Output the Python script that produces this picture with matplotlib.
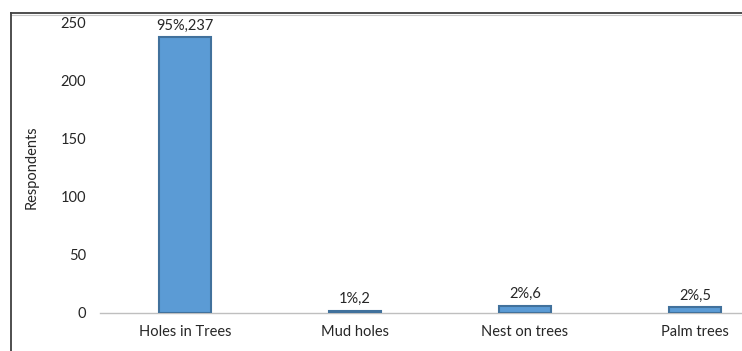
import matplotlib
matplotlib.use("Agg")
import matplotlib.pyplot as plt
from matplotlib.lines import Line2D

categories = ["Holes in Trees", "Mud holes", "Nest on trees", "Palm trees"]
values = [237, 2, 6, 5]
percents = ["95%", "1%", "2%", "2%"]
yticks = [0, 50, 100, 150, 200, 250]

plt.rcParams['font.family'] = ['Lato', 'DejaVu Sans']

W, H = 742, 351
fig = plt.figure(figsize=(W / 100, H / 100), dpi=100)
fig.patch.set_facecolor("white")

left = 100 / W
right = 780 / W
bottom = 1 - 313 / H
top = 1 - 22 / H
ax = fig.add_axes([left, bottom, right - left, top - bottom])

x = list(range(len(categories)))
bars = ax.bar(x, values, width=0.31, color="#5B9BD5", edgecolor="#41719C", linewidth=1.5, zorder=3)
for xi, v, p in zip(x, values, percents):
    ax.text(xi, v + 4, f"{p},{v}", ha="center", va="bottom", fontsize=10.5, color="#262626")

ax.set_xlim(-0.5, 3.5)
ax.set_ylim(0, 250)
ax.set_yticks(yticks)
ax.set_yticklabels([str(t) for t in yticks], fontsize=10.5, color="#262626")
ax.set_xticks(x)
ax.set_xticklabels(categories, fontsize=10.5, color="#262626")
ax.tick_params(axis="both", length=0)
ax.tick_params(axis="y", pad=10)
ax.tick_params(axis="x", pad=9)
for s in ["top", "right", "left"]:
    ax.spines[s].set_visible(False)
ax.spines["bottom"].set_color("#BFBFBF")
ax.spines["bottom"].set_linewidth(1.0)
ax.set_ylabel("Respondents", fontsize=10.5, color="#262626", labelpad=16)

# outer chart frame (partly cut off at right/bottom)
fx0 = 11 / W
fy0 = 1 - 13 / H
fig.add_artist(Line2D([fx0, 1.0], [fy0, fy0], transform=fig.transFigure, color="#404040", lw=1.3))
fig.add_artist(Line2D([fx0, 1.0], [fy0 - 1.5 / H, fy0 - 1.5 / H], transform=fig.transFigure, color="#C8C8C8", lw=0.8))
fig.add_artist(Line2D([fx0, fx0], [0, fy0], transform=fig.transFigure, color="#404040", lw=1.3))

fig.savefig("out.png", dpi=100, facecolor="white")
